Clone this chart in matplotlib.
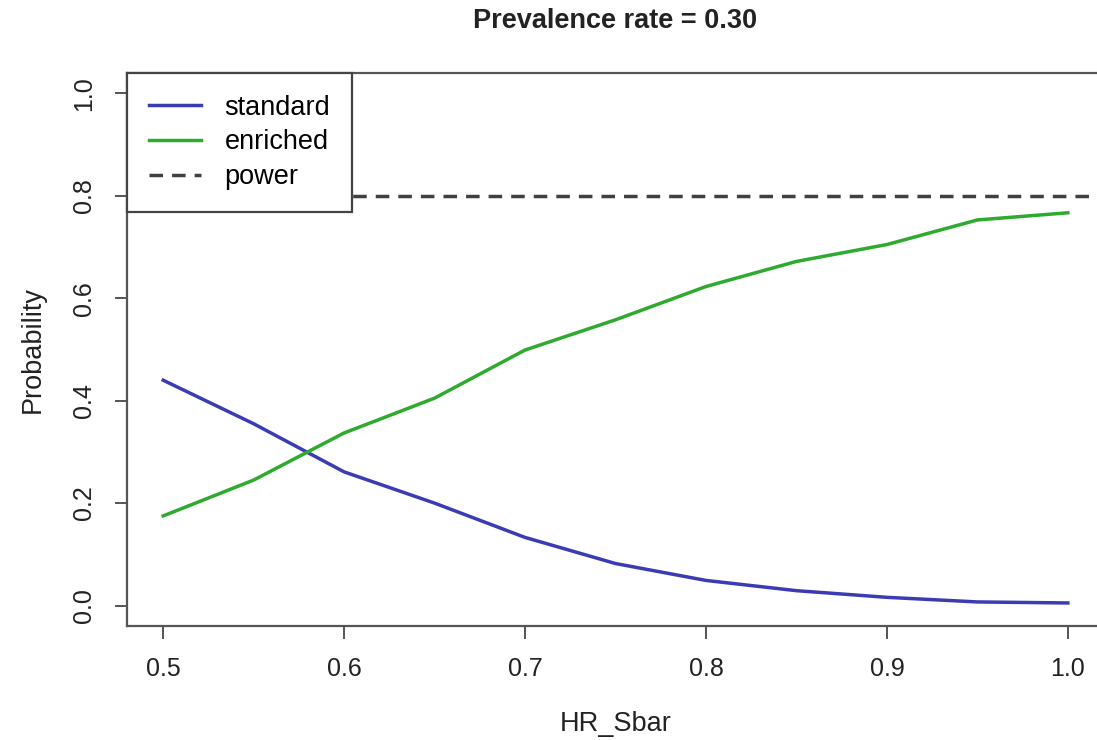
import matplotlib
matplotlib.use("Agg")
import matplotlib.pyplot as plt

# values (HR_Sbar grid 0.5 .. 1.0 step 0.05)
hr_sbar = [0.50, 0.55, 0.60, 0.65, 0.70, 0.75, 0.80, 0.85, 0.90, 0.95, 1.00]
standard = [0.440, 0.355, 0.261, 0.200, 0.133, 0.082, 0.049, 0.029, 0.016, 0.007, 0.005]
enriched = [0.175, 0.245, 0.337, 0.405, 0.499, 0.558, 0.623, 0.672, 0.705, 0.753, 0.767]
power = 0.80
xticks = [0.5, 0.6, 0.7, 0.8, 0.9, 1.0]
yticks = [0.0, 0.2, 0.4, 0.6, 0.8, 1.0]

plt.rcParams["font.family"] = ["Liberation Sans", "DejaVu Sans"]

fig = plt.figure(figsize=(10.97, 7.40), dpi=100)
# right edge of the box is cut off in the reference, so the axes runs past the figure
ax = fig.add_axes([127 / 1097, 1 - 626 / 740, 977 / 1097, 553 / 740])

ax.plot(hr_sbar, standard, color="#3b3bb3", lw=2.5, label="standard")
ax.plot(hr_sbar, enriched, color="#2eaa2e", lw=2.5, label="enriched")
ax.axhline(power, color="#404040", lw=2.5, ls=(0, (3.9, 2.6)), label="power")

ax.set_xlim(0.48, 1.02)
ax.set_ylim(-0.04, 1.04)
ax.set_xticks(xticks)
ax.set_xticklabels([f"{v:.1f}" for v in xticks])
ax.set_yticks(yticks)
ax.set_yticklabels([f"{v:.1f}" for v in yticks], rotation=90, va="center")

for s in ax.spines.values():
    s.set_color("#555555")
    s.set_linewidth(1.6)
ax.tick_params(direction="out", length=9, width=1.4, color="#555555",
               labelsize=18, pad=13, labelcolor="#222222")

ax.set_xlabel("HR_Sbar", fontsize=19.5, color="#222222", labelpad=22)
ax.set_ylabel("Probability", fontsize=19.5, color="#222222", labelpad=19)
fig.text(0.5605, 1 - 21 / 740, "Prevalence rate = 0.30", ha="center", va="center",
         fontsize=19.5, fontweight="bold", color="#222222")

leg = ax.legend(loc="upper left", bbox_to_anchor=(0, 1), borderaxespad=0,
                fancybox=False, framealpha=1, edgecolor="#444444", fontsize=19.5,
                handlelength=1.95, handletextpad=0.85, labelspacing=0.32,
                borderpad=0.8)
leg.get_frame().set_linewidth(1.6)
leg.set_zorder(5)

plt.savefig("out.png", dpi=100)
